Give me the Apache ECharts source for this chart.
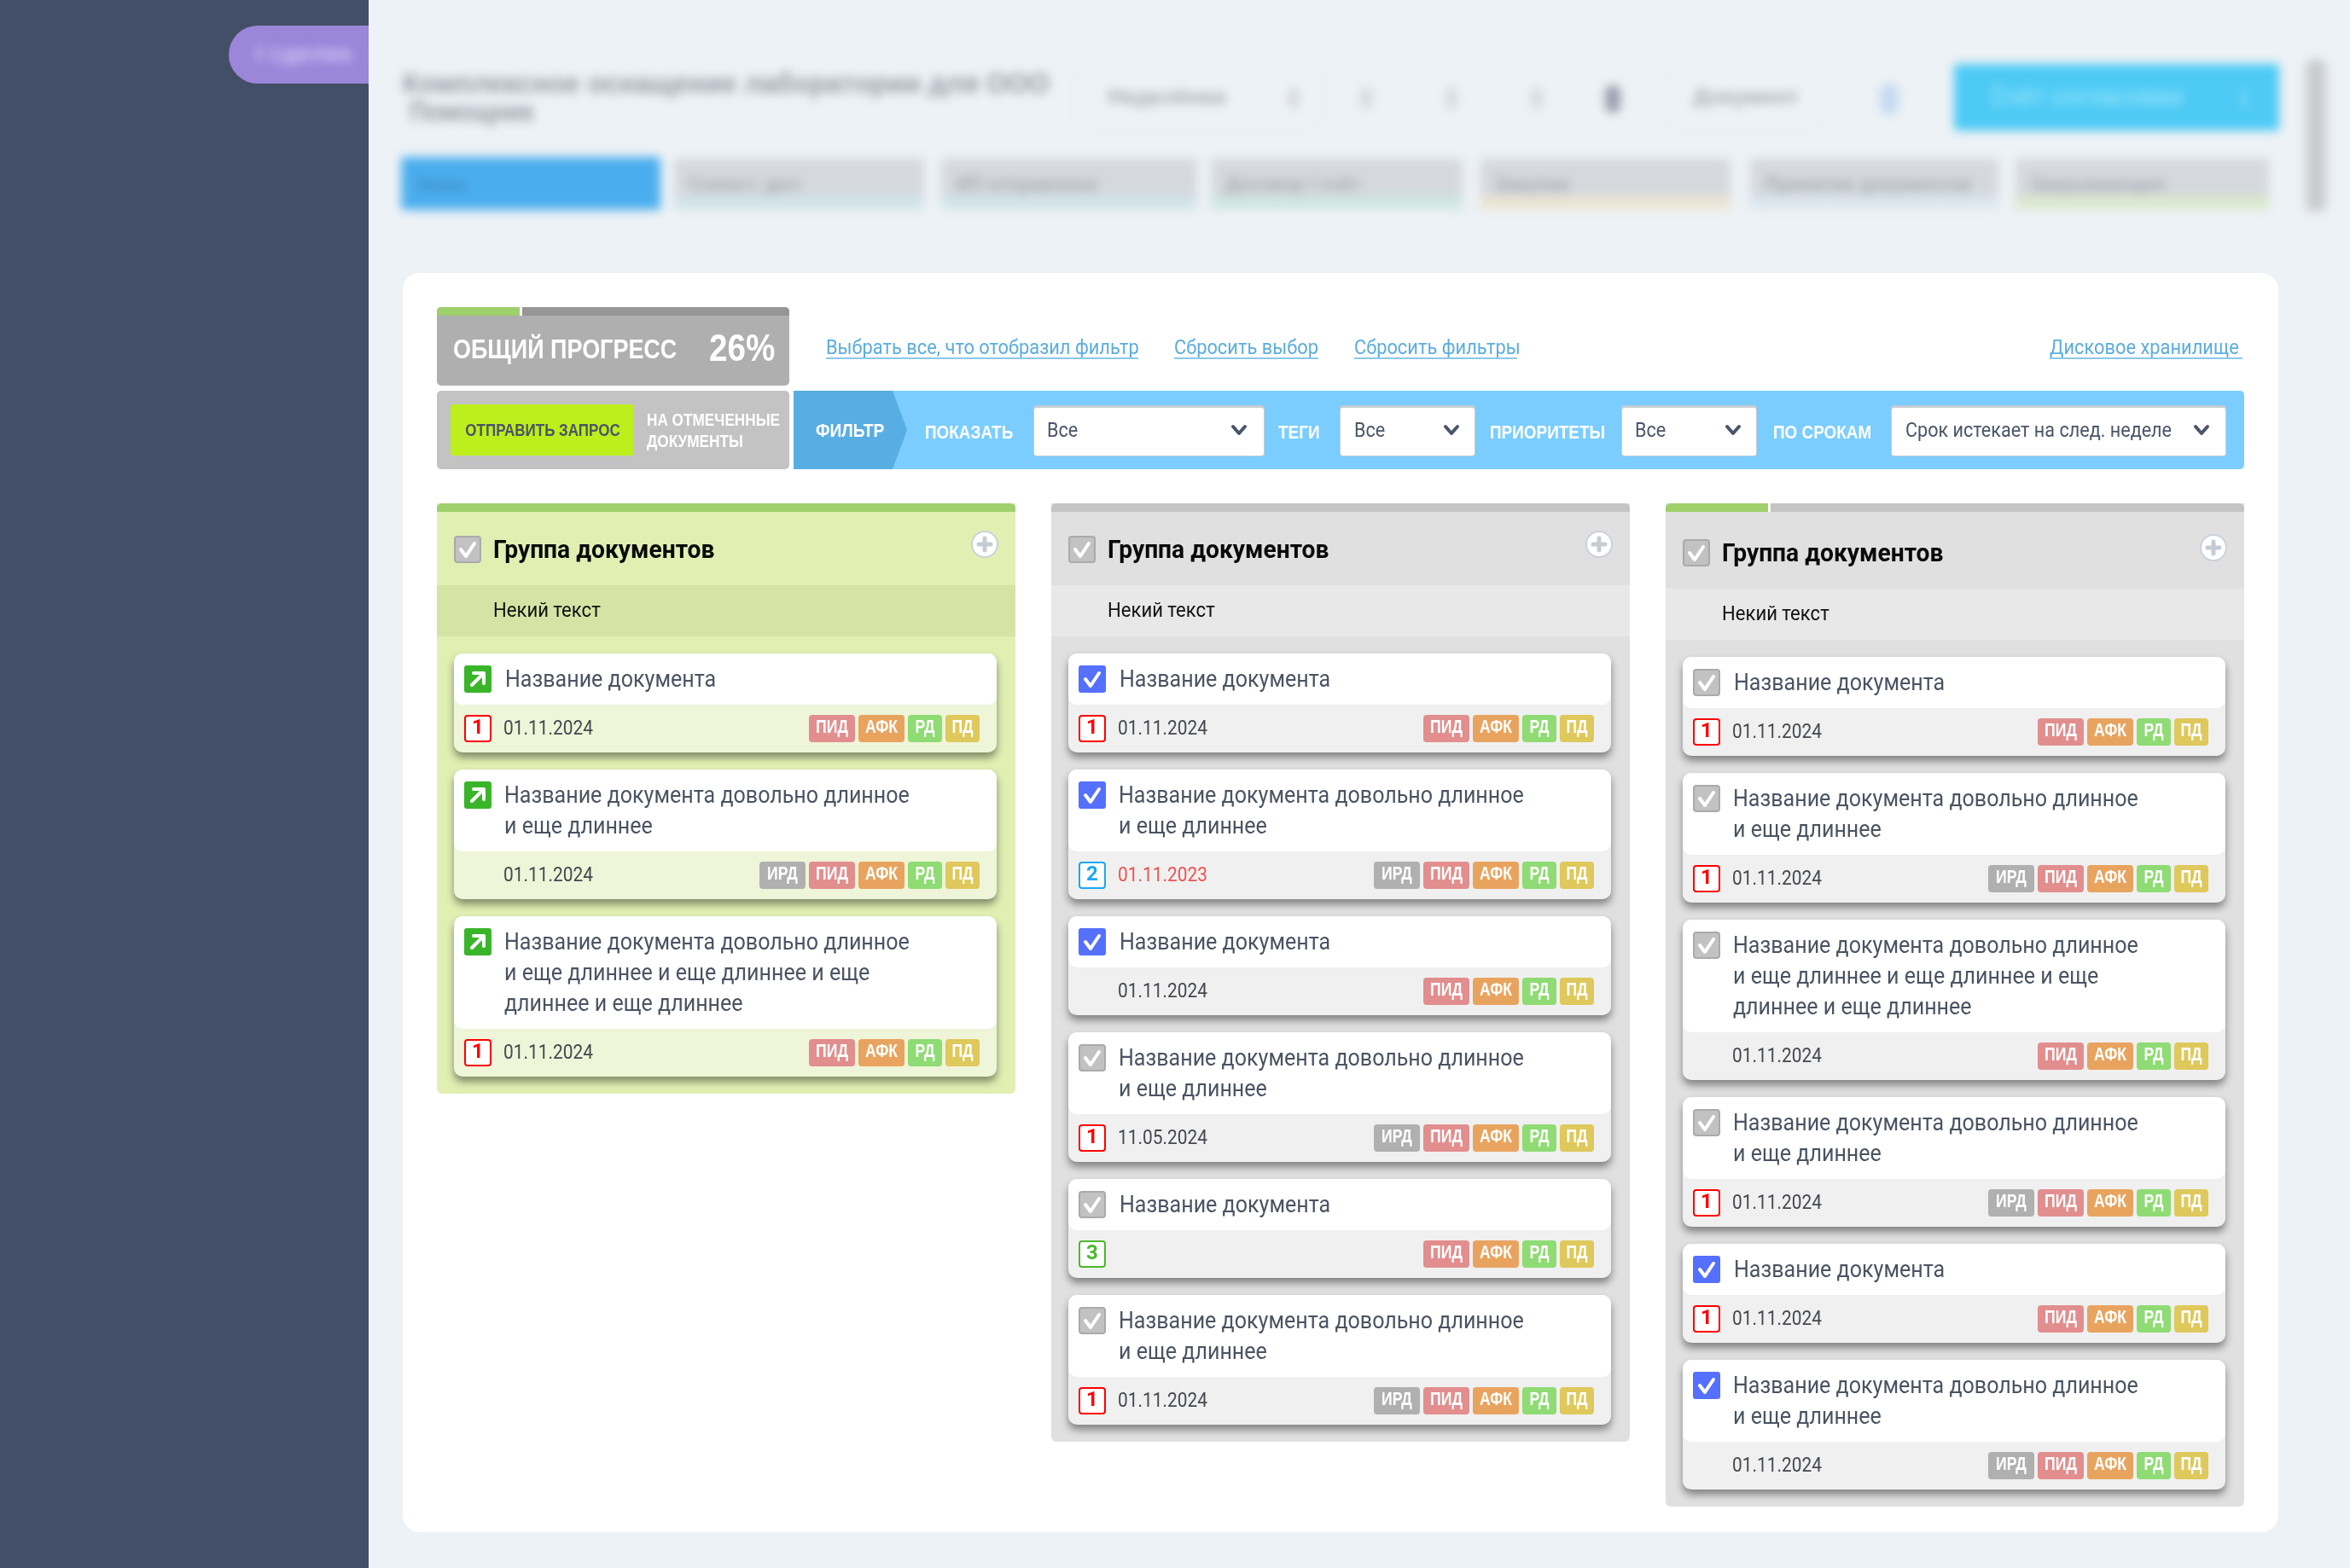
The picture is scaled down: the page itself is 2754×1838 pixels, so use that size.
<!DOCTYPE html>
<html>
<head>
<meta charset="utf-8">
<style>
  html, body { margin: 0; padding: 0; background: #edf2f6; }
  #main { position: absolute; left: 0; top: 0; width: 2754px; height: 1838px; }
  #blurred { position: absolute; left: 0; top: 0; width: 2754px; height: 290px; filter: blur(6px); }
</style>
<script src="https://cdn.jsdelivr.net/npm/echarts@6/dist/echarts.min.js"></script>
</head>
<body>
<div id="main"></div>
<div id="blurred"></div>
<script>
// text of the page
var groupTitle = 'Группа документов';
var groupNote = 'Некий текст';
var titleShort = ['Название документа'];
var titleTwo = ['Название документа довольно длинное', 'и еще длиннее'];
var titleThree = ['Название документа довольно длинное', 'и еще длиннее и еще длиннее и еще', 'длиннее и еще длиннее'];
var titleByLines = [null, titleShort, titleTwo, titleThree];

// one entry per card, column by column
var col1Lines = [1, 2, 3];
var col1Checks = ['arrow', 'arrow', 'arrow'];
var col1Priority = [1, 0, 1];
var col1Dates = ['01.11.2024', '01.11.2024', '01.11.2024'];
var col1HasIrd = [0, 1, 0];

var col2Lines = [1, 2, 1, 2, 1, 2];
var col2Checks = ['blue', 'blue', 'blue', 'grey', 'grey', 'grey'];
var col2Priority = [1, 2, 0, 1, 3, 1];
var col2Dates = ['01.11.2024', '01.11.2023', '01.11.2024', '11.05.2024', '', '01.11.2024'];
var col2HasIrd = [0, 1, 0, 1, 0, 1];

var col3Lines = [1, 2, 3, 2, 1, 2];
var col3Checks = ['grey', 'grey', 'grey', 'grey', 'blue', 'blue'];
var col3Priority = [1, 1, 0, 1, 1, 0];
var col3Dates = ['01.11.2024', '01.11.2024', '01.11.2024', '01.11.2024', '01.11.2024', '01.11.2024'];
var col3HasIrd = [0, 1, 0, 1, 0, 1];

var tagNames = ['ИРД', 'ПИД', 'АФК', 'РД', 'ПД'];
var tagColors = ['#b0b0b0', '#e28e8e', '#e8a45f', '#8fdb74', '#dfc85c'];
var tagWidths = [54, 54, 54, 40, 40];
var priorityColors = [null, '#ff0000', '#1aa7f5', '#4cb82c'];

var linkNames = ['Выбрать все, что отобразил фильтр', 'Сбросить выбор', 'Сбросить фильтры', 'Дисковое хранилище'];
var filterLabels = ['ПОКАЗАТЬ', 'ТЕГИ', 'ПРИОРИТЕТЫ', 'ПО СРОКАМ'];
var filterValues = ['Все', 'Все', 'Все', 'Срок истекает на след. неделе'];

var progressLabel = 'ОБЩИЙ ПРОГРЕСС';
var progressValue = '26%';

var BODY = 'Roboto, sans-serif';
var NARROW = '"Liberation Sans", sans-serif';

var els = [];

function box(x, y, w, h, fill, r, extra) {
  var style = { fill: fill };
  for (var k in extra) style[k] = extra[k];
  els.push({ type: 'rect', silent: true, shape: { x: x, y: y, width: w, height: h, r: r || 0 }, style: style });
}

function label(text, x, y, font, fill, align, scaleX) {
  els.push({
    type: 'text', silent: true, x: x, y: y, scaleX: scaleX || 1,
    style: { text: text, font: font, fill: fill, align: align || 'left', verticalAlign: 'middle' }
  });
}

function line(points, color, width) {
  els.push({
    type: 'polyline', silent: true, shape: { points: points },
    style: { stroke: color, lineWidth: width, fill: null, lineCap: 'round', lineJoin: 'round' }
  });
}

function checkIcon(kind, x, y) {
  if (kind == 'arrow') {
    box(x, y, 32, 32, '#3ab52a', 3);
    line([[x + 9, y + 23], [x + 22, y + 10]], '#ffffff', 4);
    line([[x + 11, y + 9], [x + 23, y + 9], [x + 23, y + 21]], '#ffffff', 4);
    return;
  }
  if (kind == 'blue') {
    box(x, y, 32, 32, '#5570fc', 3);
  } else {
    box(x + 1, y + 1, 30, 30, '#c2c2c2', 3, { stroke: '#aaaaaa', lineWidth: 2 });
  }
  line([[x + 8, y + 16], [x + 14, y + 24], [x + 24, y + 9]], '#ffffff', 4);
}

function chevron(x, y) {
  line([[x - 7, y - 4], [x, y + 4], [x + 7, y - 4]], '#4a5568', 4);
}

function card(x, y, lines, check, priority, date, hasIrd, footer) {
  var topH = 24 + 36 * lines;
  var w = 636;
  var footY = y + topH;
  box(x, y, w, topH + 56, footer, 10, { shadowBlur: 10, shadowOffsetY: 6, shadowColor: 'rgba(0,0,0,0.42)' });
  box(x, y, w, topH, '#ffffff', 10);
  checkIcon(check, x + 12, y + 14);
  var titles = titleByLines[lines];
  for (var i = 0; i < titles.length; i++) {
    label(titles[i], x + (lines == 1 ? 60 : 59), y + 32 + 36 * i, '27px ' + BODY, '#4a5362', 'left', 0.928);
  }
  if (priority) {
    box(x + 13, footY + 13, 30, 30, '#ffffff', 3, { stroke: priorityColors[priority], lineWidth: 2 });
    label(String(priority), x + 28, footY + 28, 'bold 24px ' + BODY, priorityColors[priority], 'center');
  }
  if (date) {
    label(date, x + 58, footY + 29, '24px ' + BODY, date == '01.11.2023' ? '#ef5350' : '#44494f', 'left', 0.87);
  }
  var right = x + w - 20;
  for (var t = tagNames.length - 1; t >= (hasIrd ? 0 : 1); t--) {
    var tagX = right - tagWidths[t];
    box(tagX, footY + 12, tagWidths[t], 32, tagColors[t], 4);
    label(tagNames[t], tagX + tagWidths[t] / 2, footY + 27, 'bold 22px ' + NARROW, '#ffffff', 'center', 0.8);
    right = tagX - 4;
  }
}

function column(x, shift, progress, lines, checks, priority, dates, hasIrd, green) {
  var head = green ? '#e1efb3' : '#e0e0e0';
  var note = green ? '#d5e4a4' : '#e8e8e8';
  var body = green ? '#e1efb3' : '#e0e0e0';
  var footer = green ? '#eff5d8' : '#f0f0f0';
  var w = 678;
  var cardsTop = 766 + shift;
  var bottom = cardsTop;
  for (var i = 0; i < lines.length; i++) bottom += 24 + 36 * lines[i] + 56 + 20;
  box(x, 590, w, bottom - 590, body, [0, 0, 6, 6]);
  box(x, 600, w, 86 + shift, head);
  box(x, 686 + shift, w, 60, note);
  box(x, 590, w, 10, '#c4c4c4', [6, 6, 0, 0]);
  if (progress > 0) {
    box(x, 590, progress, 10, '#9ed06b', progress >= w ? [6, 6, 0, 0] : [6, 0, 0, 0]);
    if (progress < w) box(x + progress, 590, 3, 10, '#ffffff');
  }
  checkIcon('grey', x + 20, 628 + shift);
  label(groupTitle, x + 66, 647 + shift, 'bold 29px ' + BODY, '#0a0a0a', 'left', 0.973);
  label(groupNote, x + 66, 717 + shift, '24px ' + BODY, '#111111', 'left', 0.92);
  els.push({
    type: 'circle', silent: true, shape: { cx: x + 642, cy: 638 + shift, r: 15 },
    style: { fill: '#ffffff', stroke: '#c8d2dc', lineWidth: 2 }
  });
  line([[x + 635, 638 + shift], [x + 649, 638 + shift]], '#c5ccd4', 5);
  line([[x + 642, 631 + shift], [x + 642, 645 + shift]], '#c5ccd4', 5);
  var y = cardsTop;
  for (var c = 0; c < lines.length; c++) {
    card(x + 20, y, lines[c], checks[c], priority[c], dates[c], hasIrd[c], footer);
    y += 24 + 36 * lines[c] + 56 + 20;
  }
}

// page frame
box(0, 0, 432, 1838, '#434f66');
box(268, 30, 164, 68, '#9b86da', [34, 0, 0, 34]);
box(472, 320, 2198, 1476, '#ffffff', 20);

// progress block
box(512, 360, 413, 92, '#afafaf', 5);
box(512, 360, 413, 10, '#969696', [5, 5, 0, 0]);
box(512, 360, 97, 10, '#9ed06b', [5, 0, 0, 0]);
box(609, 360, 3, 10, '#ffffff');
label(progressLabel, 531, 411, 'bold 31px ' + NARROW, '#ffffff', 'left', 0.87);
label(progressValue, 831, 411, 'bold 44px ' + NARROW, '#ffffff', 'left', 0.88);

// request block
box(512, 458, 413, 92, '#c3c3c3', 5);
box(528, 474, 215, 60, '#bdef1c', 4);
label('ОТПРАВИТЬ ЗАПРОС', 636, 505, 'bold 20px ' + NARROW, '#4a5568', 'center', 0.85);
label('НА ОТМЕЧЕННЫЕ', 758, 493, 'bold 20px ' + NARROW, '#ffffff', 'left', 0.86);
label('ДОКУМЕНТЫ', 758, 518, 'bold 20px ' + NARROW, '#ffffff', 'left', 0.86);

// filter bar
box(930, 458, 1700, 92, '#7bcdff', 5);
els.push({
  type: 'polygon', silent: true,
  shape: { points: [[930, 458], [1046, 458], [1063, 504], [1046, 550], [930, 550]] },
  style: { fill: '#58aee3' }
});
label('ФИЛЬТР', 956, 506, 'bold 22px ' + NARROW, '#ffffff', 'left', 0.875);
var filterLabelX = [1084, 1498, 1746, 2078];
var selectX = [1211, 1570, 1900, 2216];
var selectW = [271, 159, 159, 393];
var selectTextX = [1227, 1587, 1916, 2233];
var chevronX = [1452, 1701, 2031, 2580];
for (var f = 0; f < filterLabels.length; f++) {
  label(filterLabels[f], filterLabelX[f], 508, 'bold 22px ' + NARROW, '#ffffff', 'left', 0.86);
  box(selectX[f], 475, selectW[f], 60, '#c5ccd4', 4);
  box(selectX[f] + 1, 478, selectW[f] - 2, 56, '#ffffff', 3);
  label(filterValues[f], selectTextX[f], 506, '24px ' + BODY, '#4a5568', 'left', 0.9);
  chevron(chevronX[f], 504);
}

// links
var linkX = [968, 1376, 1587, 2402];
var linkW = [366, 169, 191, 226];
for (var l = 0; l < linkNames.length; l++) {
  label(linkNames[l], linkX[l], 409, '23px ' + BODY, '#5badde', 'left', 0.95);
  box(linkX[l], 419, linkW[l], 2, '#8cc8ea');
}

column(512, 0, 678, col1Lines, col1Checks, col1Priority, col1Dates, col1HasIrd, true);
column(1232, 0, 0, col2Lines, col2Checks, col2Priority, col2Dates, col2HasIrd, false);
column(1952, 4, 120, col3Lines, col3Checks, col3Priority, col3Dates, col3HasIrd, false);

var chart = echarts.init(document.getElementById('main'));
chart.setOption({ animation: false, backgroundColor: '#edf2f6', graphic: { elements: els } });

// the blurred toolbar sits in its own chart, CSS blurs the whole of it
els = [];
var tabNames = ['Заказ', 'Сопост. дел', 'ИП отправлено', 'Договор / счёт', 'Закупки', 'Принятие документов', 'Закрывающие'];
var tabX = [470, 790, 1103, 1419, 1735, 2051, 2362];
var tabW = [304, 293, 300, 295, 293, 291, 297];
var tabStrip = ['#4aaeee', '#cfe3e8', '#cfe3e8', '#cde6de', '#ece3d0', '#dbe5ee', '#d9e8cb'];
for (var n = 0; n < tabNames.length; n++) {
  box(tabX[n], n == 0 ? 184 : 186, tabW[n], n == 0 ? 62 : 58, n == 0 ? '#4aaeee' : '#d5d9de', 4);
  box(tabX[n], 230, tabW[n], 15, tabStrip[n]);
  label(tabNames[n], tabX[n] + 17, 217, 'bold 24px ' + NARROW, n == 0 ? '#3f8ec4' : '#a8adb3', 'left', 0.92);
}
label('Комплексное оснащение лаборатории для ООО', 472, 100, 'bold 34px ' + NARROW, '#949ba4', 'left', 0.935);
label('Помощник', 480, 133, 'bold 34px ' + NARROW, '#949ba4', 'left', 0.82);
box(1262, 82, 284, 66, '#edf2f6', 6, { stroke: '#e6ebef', lineWidth: 2 });
label('Неделёнка', 1298, 115, 'bold 26px ' + NARROW, '#a8adb3');
box(1955, 82, 180, 66, '#edf2f6', 6, { stroke: '#e6ebef', lineWidth: 2 });
label('Документ', 1984, 115, 'bold 26px ' + NARROW, '#a8adb3');
var iconX = [1515, 1600, 1700, 1800];
for (var ic = 0; ic < iconX.length; ic++) box(iconX[ic] - 5, 103, 12, 24, '#d4d8dc', 4);
box(1881, 100, 18, 32, '#9a9ead', 8);
box(2203, 98, 22, 36, '#c5daf0', 10);
box(2290, 75, 381, 78, '#4dcaf5', 4);
label('Счёт согласован', 2333, 115, 'bold 34px ' + NARROW, '#8be0fa', 'left', 0.8);
box(2628, 104, 4, 22, '#8be0fa');
box(2702, 70, 24, 178, '#c9cccf', 8);
label('I сделка', 300, 64, 'bold 28px ' + NARROW, '#d0c6f4');

var blurredChart = echarts.init(document.getElementById('blurred'));
blurredChart.setOption({ animation: false, graphic: { elements: els } });
</script>
</body>
</html>
